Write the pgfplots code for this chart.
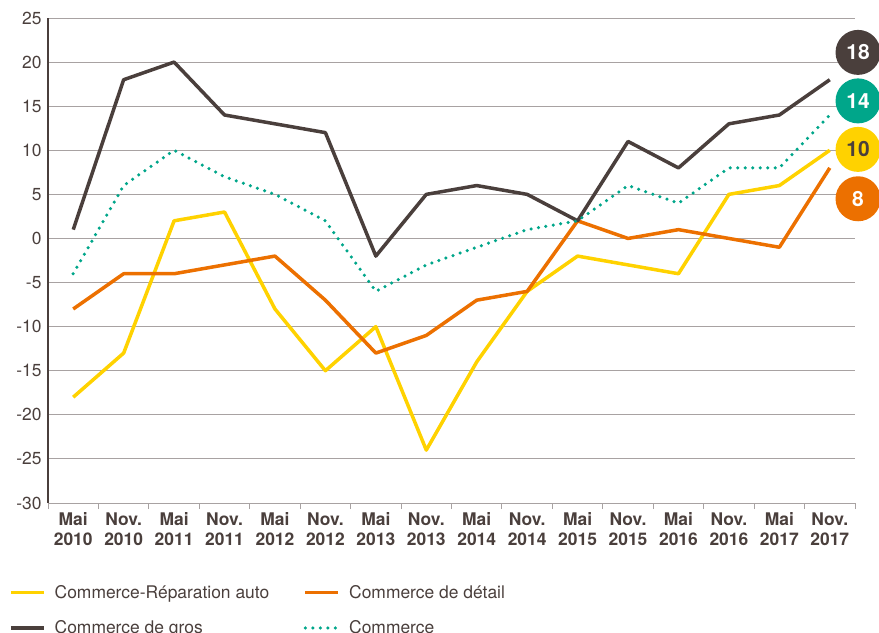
\documentclass[border=0pt]{standalone}
\usepackage{pgfplots}
\pgfplotsset{compat=1.18}
\usepackage{fontspec}
\setmainfont{TeX Gyre Heros}
\definecolor{txt}{HTML}{4A3F3C}
\definecolor{colGros}{HTML}{4A3F3C}
\definecolor{colAuto}{HTML}{FFD200}
\definecolor{colDetail}{HTML}{EC7000}
\definecolor{colComm}{HTML}{00A68A}
\definecolor{gridc}{HTML}{A8A2A2}
\begin{document}
\begin{tikzpicture}
\begin{axis}[
  at={(0,0)}, anchor=south west,
  scale only axis, width=807bp, height=485bp,
  xmin=-0.5, xmax=15.5, ymin=-30, ymax=25,
  axis lines*=left,
  x axis line style={draw=gridc, line width=1bp},
  y axis line style={draw=txt, line width=1.3bp},
  ytick={-30,-25,...,25},
  ymajorgrids, grid style={gridc, line width=0.9bp},
  major tick length=0pt,
  xtick={0,...,15},
  xticklabels={{Mai\\2010},{Nov.\\2010},{Mai\\2011},{Nov.\\2011},{Mai\\2012},{Nov.\\2012},{Mai\\2013},{Nov.\\2013},{Mai\\2014},{Nov.\\2014},{Mai\\2015},{Nov.\\2015},{Mai\\2016},{Nov.\\2016},{Mai\\2017},{Nov.\\2017}},
  xticklabel style={align=center, font=\fontsize{17.5}{20}\selectfont\bfseries, text=txt, yshift=-6bp},
  yticklabel style={font=\fontsize{17.5}{20}\selectfont, text=txt, xshift=-3bp},
  /pgf/number format/assume math mode=true,
  extra x ticks={-0.5,0.5,...,15.5},
  extra x tick labels={},
  extra x tick style={xmajorgrids=false, major tick length=6bp, tick align=outside, major tick style={draw=gridc, line width=1bp}},
  clip=false,
  legend columns=2,
  legend cell align=left,
  legend style={at={(axis description cs:0,0)}, anchor=north west, xshift=-39bp, yshift=-80bp, draw=none, fill=none, inner sep=0pt, font=\fontsize{17.5}{20}\selectfont, text=txt, row sep=17bp, nodes={inner sep=2bp}, /tikz/every odd column/.append style={column sep=7bp}},
  legend image code/.code={\draw[#1] (0bp,0bp) -- (33bp,0bp);},
  every axis plot/.append style={line width=3.5bp, line join=round},
]
\addplot[colAuto] coordinates {(0,-18)(1,-13)(2,2)(3,3)(4,-8)(5,-15)(6,-10)(7,-24)(8,-14)(9,-6)(10,-2)(11,-3)(12,-4)(13,5)(14,6)(15,10)};
\addlegendentry{\makebox[247bp][l]{Commerce-Réparation auto}}
\addplot[colDetail] coordinates {(0,-8)(1,-4)(2,-4)(3,-3)(4,-2)(5,-7)(6,-13)(7,-11)(8,-7)(9,-6)(10,2)(11,0)(12,1)(13,0)(14,-1)(15,8)};
\addlegendentry{Commerce de détail}
\addplot[colGros] coordinates {(0,1)(1,18)(2,20)(3,14)(4,13)(5,12)(6,-2)(7,5)(8,6)(9,5)(10,2)(11,11)(12,8)(13,13)(14,14)(15,18)};
\addlegendentry{Commerce de gros}
\addplot[colComm, line cap=round, dash pattern=on 0bp off 7.5bp] coordinates {(0,-4)(1,6)(2,10)(3,7)(4,5)(5,2)(6,-6)(7,-3)(8,-1)(9,1)(10,2)(11,6)(12,4)(13,8)(14,8)(15,14)};
\addlegendentry{Commerce}
\begin{scope}[every node/.style={circle, minimum size=45bp, inner sep=0pt, font=\fontsize{21}{21}\selectfont\bfseries}]
\node[fill=colGros, text=white] at (axis cs:15.56,21.1) {18};
\node[fill=colComm, text=white] at (axis cs:15.56,15.6) {14};
\node[fill=colAuto, text=txt] at (axis cs:15.56,10.1) {10};
\node[fill=colDetail, text=white] at (axis cs:15.56,4.5) {8};
\end{scope}
\end{axis}
\pgfresetboundingbox
\path[use as bounding box] (-48bp,-130bp) rectangle (831bp,503bp);
\end{tikzpicture}
\end{document}
